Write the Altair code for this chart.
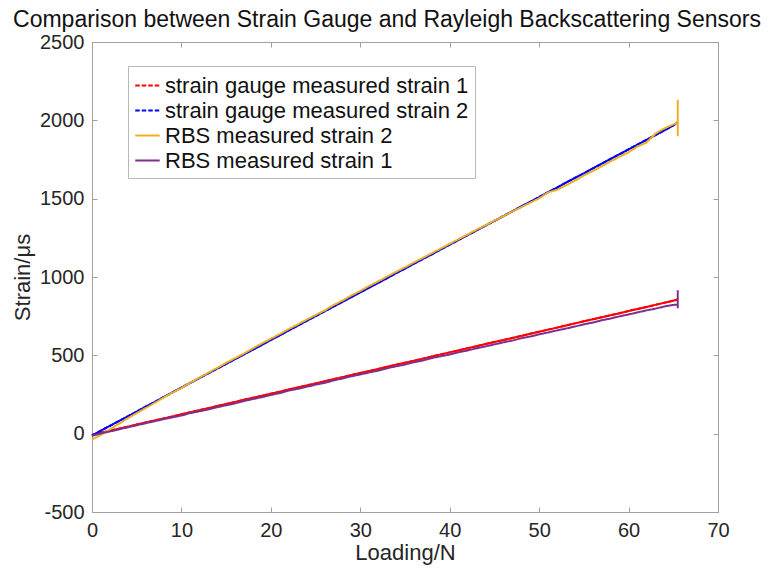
import altair as alt
import pandas as pd

# ---- data -------------------------------------------------------------
SERIES = [
    "strain gauge measured strain 1",
    "strain gauge measured strain 2",
    "RBS measured strain 2",
    "RBS measured strain 1",
]
COLORS = ["#ff0000", "#0000ff", "#edb120", "#7e2f8e"]
DASHES = [[4.5, 2], [4.5, 2], [1, 0], [1, 0]]

# loading steps (N)
load_n = list(range(66)) + [65.5]

gauge_1 = [
    -8, 6, 19, 32, 45, 58, 71, 84, 97, 110,
    124, 137, 150, 163, 176, 189, 203, 216, 229, 242,
    255, 268, 282, 295, 308, 321, 334, 348, 361, 374,
    387, 400, 413, 427, 440, 453, 466, 479, 493, 506,
    519, 532, 545, 558, 572, 585, 598, 611, 624, 638,
    651, 664, 677, 690, 704, 717, 730, 743, 756, 769,
    783, 796, 809, 822, 835, 849, 856,
]
gauge_2 = [
    -12, 20, 50, 80, 111, 141, 172, 202, 233, 263,
    294, 324, 355, 385, 415, 446, 476, 506, 537, 567,
    598, 628, 659, 689, 720, 750, 780, 811, 841, 872,
    902, 933, 963, 993, 1024, 1054, 1085, 1115, 1145, 1176,
    1206, 1237, 1267, 1297, 1328, 1358, 1389, 1419, 1450, 1480,
    1510, 1541, 1571, 1602, 1632, 1662, 1693, 1723, 1754, 1784,
    1815, 1845, 1875, 1906, 1936, 1967, 1988,
]

# RBS readings end with the jump recorded at the final load step
rbs_load_n = load_n + [65.5, 65.5, 65.5]
rbs_2 = [
    -38, -8, 27, 63, 98, 131, 163, 196, 229, 262,
    292, 325, 357, 389, 420, 452, 482, 512, 545, 576,
    606, 636, 668, 697, 728, 757, 786, 820, 850, 882,
    911, 943, 972, 1003, 1033, 1062, 1093, 1122, 1152, 1182,
    1212, 1242, 1271, 1302, 1330, 1360, 1388, 1418, 1446, 1474,
    1502, 1540, 1556, 1585, 1615, 1648, 1676, 1707, 1738, 1768,
    1796, 1833, 1858, 1915, 1948, 1974, 1985,
    2132, 1898, 1985,
]
rbs_1 = [
    -14, 2, 14, 27, 41, 53, 67, 79, 93, 104,
    116, 131, 143, 154, 169, 181, 193, 209, 221, 233,
    247, 259, 275, 286, 299, 313, 324, 340, 352, 366,
    378, 391, 402, 418, 430, 441, 456, 467, 483, 494,
    505, 520, 531, 545, 557, 570, 583, 594, 609, 620,
    634, 646, 659, 671, 684, 698, 709, 724, 735, 749,
    761, 774, 787, 798, 812, 822, 824,
    916, 800, 824,
]

x_ticks = [0, 10, 20, 30, 40, 50, 60, 70]
y_ticks = [-500, 0, 500, 1000, 1500, 2000, 2500]


def long_frame(pairs):
    rows = []
    for name, xs, ys in pairs:
        for i, (x, y) in enumerate(zip(xs, ys)):
            rows.append({"load": x, "strain": y, "series": name, "seq": i})
    return pd.DataFrame(rows)


gauge_df = long_frame([
    (SERIES[0], load_n, gauge_1),
    (SERIES[1], load_n, gauge_2),
])
rbs_df = long_frame([
    (SERIES[2], rbs_load_n, rbs_2),
    (SERIES[3], rbs_load_n, rbs_1),
])

# ---- layout -----------------------------------------------------------
W, H = 626, 470
FONT = "Liberation Sans"
TXT = "#262626"
FRAME = "#a0a0a0"

x_scale = alt.Scale(domain=[0, 70], nice=False, zero=False)
y_scale = alt.Scale(domain=[-500, 2500], nice=False, zero=False)
color_scale = alt.Scale(domain=SERIES, range=COLORS)
dash_scale = alt.Scale(domain=SERIES, range=DASHES)


def tick_axis(orient, offset, values):
    # inward-pointing ticks drawn on the frame edge
    return alt.Axis(
        orient=orient, offset=offset, values=values, labels=False,
        ticks=True, tickSize=5, tickColor=FRAME, tickWidth=1,
        domain=False, grid=False, title=None,
    )


label_x = alt.Axis(
    values=x_ticks, ticks=False, tickSize=0, domain=False, grid=False,
    labelExpr="'' + datum.value", labelFlush=False,
    labelFont=FONT, labelFontSize=20, labelColor=TXT, labelPadding=8,
    title="Loading/N", titleFont=FONT, titleFontSize=22, titleFontWeight="normal",
    titleColor=TXT, titleY=47, titleBaseline="alphabetic",
)
label_y = alt.Axis(
    values=y_ticks, ticks=False, tickSize=0, domain=False, grid=False,
    labelExpr="'' + datum.value", labelFlush=False,
    labelFont=FONT, labelFontSize=20, labelColor=TXT, labelPadding=8,
    title="Strain/μs", titleFont=FONT, titleFontSize=22, titleFontWeight="normal",
    titleColor=TXT, titleX=-70, titleY=H / 2, titleAngle=270,
    titleAlign="center", titleBaseline="middle",
)

legend = alt.Legend(title=None)

# gauge lines: dashed (gives the legend its dashed keys)
gauge_dashed = alt.Chart(gauge_df).mark_line(strokeWidth=2).encode(
    x=alt.X("load:Q", scale=x_scale, axis=label_x),
    y=alt.Y("strain:Q", scale=y_scale, axis=label_y),
    color=alt.Color("series:N", scale=color_scale, legend=legend),
    strokeDash=alt.StrokeDash("series:N", scale=dash_scale, legend=legend),
    order="seq:Q",
)

# gauge lines: dense readings appear continuous in the plot area
gauge_solid = alt.Chart(gauge_df).mark_line(strokeWidth=2).encode(
    x=alt.X("load:Q", scale=x_scale, axis=tick_axis("top", -H, x_ticks)),
    y=alt.Y("strain:Q", scale=y_scale, axis=tick_axis("right", -W, y_ticks)),
    color=alt.Color("series:N", scale=color_scale, legend=None),
    order="seq:Q",
)

rbs_lines = alt.Chart(rbs_df).mark_line(strokeWidth=2).encode(
    x=alt.X("load:Q", scale=x_scale, axis=tick_axis("bottom", -H, x_ticks)),
    y=alt.Y("strain:Q", scale=y_scale, axis=tick_axis("left", -W, y_ticks)),
    color=alt.Color("series:N", scale=color_scale, legend=legend),
    strokeDash=alt.StrokeDash("series:N", scale=dash_scale, legend=legend),
    order="seq:Q",
)

chart = (
    alt.layer(gauge_dashed, gauge_solid, rbs_lines)
    .resolve_axis(x="independent", y="independent")
    .properties(
        width=W,
        height=H,
        autosize=alt.AutoSizeParams(type="none"),
        padding={"left": 92, "top": 42, "right": 56, "bottom": 60},
        title=alt.Title(
            text="Comparison between Strain Gauge and Rayleigh Backscattering Sensors",
            font=FONT, fontSize=23, fontWeight="normal", color="#111111",
            anchor="middle", frame="group", baseline="alphabetic",
            offset=6, dx=-18, dy=24,
        ),
    )
    .configure(background="white")
    .configure_view(stroke=FRAME, strokeWidth=1)
    .configure_legend(
        orient="none", legendX=36, legendY=24,
        strokeColor="#b8b8b8", fillColor="white", padding=6,
        symbolType="stroke", symbolSize=600, symbolStrokeWidth=2,
        labelFont=FONT, labelFontSize=22, labelColor="#111111",
        labelOffset=4, rowPadding=0, labelLimit=400,
    )
)

chart.save("out.html", embed_options={"renderer": "svg", "actions": False})
